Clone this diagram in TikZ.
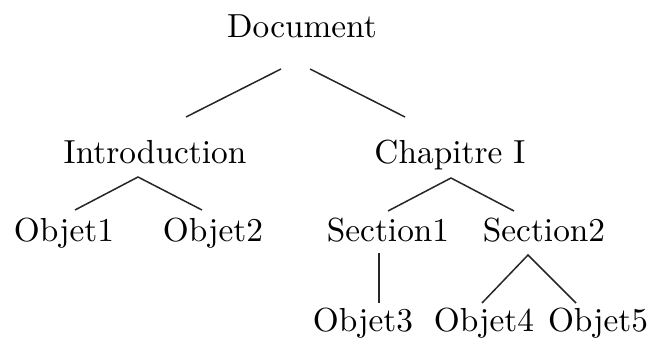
\documentclass[tikz,border=0pt]{standalone}
\begin{document}
\begin{tikzpicture}[x=0.3pt,y=-0.3pt,
  lbl/.style={anchor=base,inner sep=0pt,font=\fontsize{10}{12}\selectfont},
  edge/.style={line width=0.45pt,draw=black!85}]
\useasboundingbox (0,0) rectangle (650,338);
\node[lbl] (doc) at (302,38) {Document};
\node[lbl] (intro) at (155,164) {Introduction};
\node[lbl] (chap) at (450,164) {Chapitre I};
\node[lbl] (o1) at (64,241) {Objet1};
\node[lbl] (o2) at (213,241) {Objet2};
\node[lbl] (s1) at (388,241) {Section1};
\node[lbl] (s2) at (544,241) {Section2};
\node[lbl] (o3) at (363,331) {Objet3};
\node[lbl] (o4) at (484,331) {Objet4};
\node[lbl] (o5) at (598,331) {Objet5};
\draw[edge] ([shift={(-21,31)}]doc.base) -- ([shift={(31,-47)}]intro.base);
\draw[edge] ([shift={(8,31)}]doc.base) -- ([shift={(-45,-47)}]chap.base);
\draw[edge] ([shift={(11,-31)}]o1.base) -- ([shift={(-17,13)}]intro.base) -- ([shift={(-11,-31)}]o2.base);
\draw[edge] ([shift={(0,-30)}]s1.base) -- ([shift={(1,14)}]chap.base) -- ([shift={(-30,-30)}]s2.base);
\draw[edge] ([shift={(-9,12)}]s1.base) -- ([shift={(16,-28)}]o3.base);
\draw[edge] ([shift={(-2,-28)}]o4.base) -- ([shift={(-16,14)}]s2.base) -- ([shift={(-22,-28)}]o5.base);
\end{tikzpicture}
\end{document}
